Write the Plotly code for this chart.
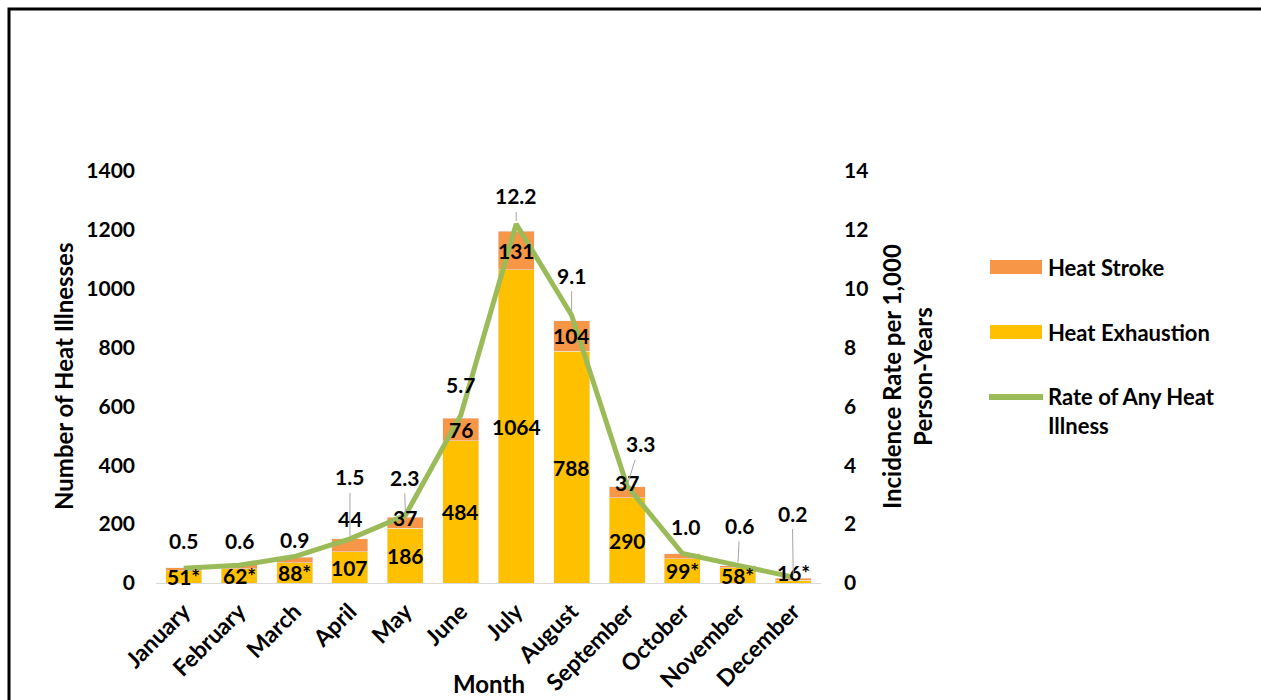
import plotly.graph_objects as go

# Monthly heat illness counts and incidence rate
months = ["January", "February", "March", "April", "May", "June",
          "July", "August", "September", "October", "November", "December"]
heat_exhaustion = [41, 49, 69, 107, 186, 484, 1064, 788, 290, 82, 51, 10]
heat_stroke = [10, 13, 19, 44, 37, 76, 131, 104, 37, 17, 7, 6]
rate = [0.5, 0.6, 0.9, 1.5, 2.3, 5.7, 12.2, 9.1, 3.3, 1.0, 0.6, 0.2]
# months whose counts are reported only as a combined total (marked with *)
combined = [True, True, True, False, False, False,
            False, False, False, True, True, True]

# label placement tweaks (pixels)
exh_label_shift = [0, 0, 0, 0, 0, 0, 0, 0, 0, 0, 0, 9]
stroke_label_shift = [0, 0, 0, 27, 5, 0, 0, 0, 10, 0, 0, 0]
rate_label_dx = [0, 0, 0, 0, -1, 0, 0, 0, 13, 3, 2, -1]
rate_label_dy = [-28, -25, -17, -62, -38, -31, -28, -40, -42, -27, -40, -64]
rate_leader = [False, False, False, True, True, False,
               True, True, True, False, True, True]

ORANGE = "#F79646"
YELLOW = "#FFC000"
GREEN = "#9BBB59"
FONT = "Lato"

W, H = 1261, 700
L, R, T, B = 156, 821, 171, 583  # plot area in pixels


def px_x(px):
    return (px - L) / (R - L)


def px_y(py):
    return (B - py) / (B - T)


fig = go.Figure()
fig.add_trace(go.Bar(x=months, y=heat_exhaustion, name="Heat Exhaustion",
                     marker_color=YELLOW, showlegend=False))
fig.add_trace(go.Bar(x=months, y=heat_stroke, name="Heat Stroke",
                     marker_color=ORANGE, showlegend=False))
fig.add_trace(go.Scatter(x=months, y=rate, yaxis="y2", mode="lines",
                         name="Rate of Any Heat Illness",
                         line=dict(color=GREEN, width=5), showlegend=False))

lab_font = dict(family=FONT, size=21, color="black", weight="bold")
annotations = []
for i, m in enumerate(months):
    exh, st = heat_exhaustion[i], heat_stroke[i]
    if combined[i]:
        txt = f"{exh + st}*"
    else:
        txt = str(exh)
    annotations.append(dict(x=m, y=exh / 2, xref="x", yref="y", text=txt,
                            showarrow=False, yshift=exh_label_shift[i],
                            xanchor="center", yanchor="middle",
                            font=lab_font))
    if not combined[i]:
        annotations.append(dict(x=m, y=exh + st / 2, xref="x", yref="y",
                                text=str(st), showarrow=False,
                                xanchor="center", yanchor="middle",
                                yshift=stroke_label_shift[i], font=lab_font))
    r_txt = f"{rate[i]:.1f}"
    if rate_leader[i]:
        annotations.append(dict(x=m, y=rate[i], xref="x", yref="y2",
                                text=r_txt, showarrow=True, arrowhead=0,
                                arrowwidth=1, arrowcolor="#A6A6A6",
                                ax=rate_label_dx[i], ay=rate_label_dy[i],
                                standoff=3, startstandoff=2, font=lab_font))
    else:
        annotations.append(dict(x=m, y=rate[i], xref="x", yref="y2",
                                text=r_txt, showarrow=False,
                                xanchor="center", yanchor="middle",
                                xshift=rate_label_dx[i],
                                yshift=-rate_label_dy[i], font=lab_font))

title_font = dict(family=FONT, size=24, color="black", weight="bold")
annotations += [
    dict(x=px_x(63), y=px_y(377), xref="paper", yref="paper",
         text="Number of Heat Illnesses", textangle=-90, showarrow=False,
         xanchor="center", yanchor="middle", font=title_font),
    dict(x=px_x(907), y=px_y(377), xref="paper", yref="paper",
         text="Incidence Rate per 1,000<br>Person-Years", textangle=-90,
         showarrow=False, xanchor="center", yanchor="middle",
         font=title_font),
    dict(x=px_x(489), y=px_y(683), xref="paper", yref="paper",
         text="Month", showarrow=False, xanchor="center", yanchor="middle",
         font=title_font),
]

# legend
leg_font = dict(family=FONT, size=22, color="black", weight="bold")
legend_items = [("Heat Stroke", 267), ("Heat Exhaustion", 332),
                ("Rate of Any Heat<br>Illness", 411)]
for text, cy in legend_items:
    annotations.append(dict(x=px_x(1046), y=px_y(cy), xref="paper",
                            yref="paper", text=text, showarrow=False,
                            xanchor="left", yanchor="middle", align="left",
                            font=leg_font))

shapes = [
    dict(type="rect", xref="paper", yref="paper",
         x0=px_x(990), x1=px_x(1042), y0=px_y(260), y1=px_y(274),
         fillcolor=ORANGE, line=dict(width=0)),
    dict(type="rect", xref="paper", yref="paper",
         x0=px_x(990), x1=px_x(1042), y0=px_y(325), y1=px_y(339),
         fillcolor=YELLOW, line=dict(width=0)),
    dict(type="line", xref="paper", yref="paper",
         x0=px_x(989), x1=px_x(1043), y0=px_y(397), y1=px_y(397),
         line=dict(color=GREEN, width=6)),
    # outer frame
    dict(type="rect", xref="paper", yref="paper",
         x0=px_x(9), x1=px_x(1300), y0=px_y(9), y1=px_y(760),
         line=dict(color="black", width=3), fillcolor="rgba(0,0,0,0)"),
]

tick_font = dict(family=FONT, size=21, color="black", weight="bold")
xtick_font = dict(family=FONT, size=23, color="black", weight="bold")
fig.update_layout(
    width=W, height=H, autosize=False,
    margin=dict(l=L, r=W - R, t=T, b=H - B, pad=0, autoexpand=False),
    paper_bgcolor="white", plot_bgcolor="white",
    barmode="stack", bargap=0.35,
    xaxis=dict(showgrid=False, showline=True, linecolor="#D9D9D9",
               linewidth=1, ticks="", tickangle=-45, tickfont=xtick_font,
               zeroline=False, ticklabelstandoff=5, automargin=False),
    yaxis=dict(range=[0, 1400], dtick=200, showgrid=False, showline=False,
               zeroline=False, ticks="", tickfont=tick_font,
               ticklabelstandoff=20, automargin=False),
    yaxis2=dict(range=[0, 14], dtick=2, overlaying="y", side="right",
                showgrid=False, showline=False, zeroline=False, ticks="",
                tickfont=tick_font, ticklabelstandoff=22, automargin=False),
    annotations=annotations,
    shapes=shapes,
    showlegend=False,
)

fig.write_html("out.html")
